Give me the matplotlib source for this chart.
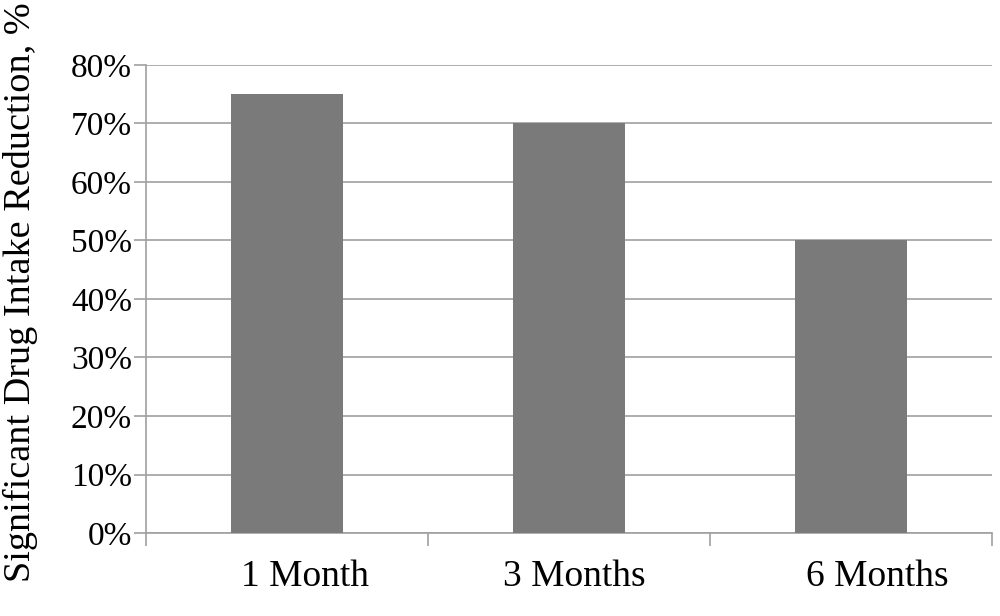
import numpy as np
import matplotlib.pyplot as plt
import matplotlib.transforms as mtransforms
from matplotlib.ticker import FixedLocator, NullFormatter

categories = ["1 Month", "3 Months", "6 Months"]
reduction = [75, 70, 50]
y_ticks = [0, 10, 20, 30, 40, 50, 60, 70, 80]
y_labels = ["0%", "10%", "20%", "30%", "40%", "50%", "60%", "70%", "80%"]

plt.rcParams["font.family"] = ["Liberation Serif", "DejaVu Serif"]

fig = plt.figure(figsize=(10, 6.16), dpi=100)
ax = fig.add_axes([0.146, 0.1347, 0.846, 0.76])

x = np.arange(len(categories))
ax.bar(x, reduction, width=0.4, color="#7a7a7a", zorder=3)

ax.set_xlim(-0.5, len(categories) - 0.5)
ax.set_ylim(0, 80)

# gridlines
ax.set_yticks(y_ticks)
ax.set_yticklabels(y_labels, fontsize=24)
ax.yaxis.grid(True, color="#a0a0a0", linewidth=1.2, zorder=0)
ax.tick_params(axis="y", length=9, width=1.2, color="#a0a0a0", pad=1)

# category labels, ticks on boundaries
ax.set_xticks(x)
ax.set_xticklabels(categories, fontsize=27)
ax.tick_params(axis="x", which="major", length=0, pad=19)
ax.xaxis.set_minor_locator(FixedLocator(np.arange(len(categories) + 1) - 0.5))
ax.xaxis.set_minor_formatter(NullFormatter())
ax.tick_params(axis="x", which="minor", length=9, width=1.2, color="#a0a0a0")

# labels in the original sit a little right of the bar centres
for lab, dx in zip(ax.get_xticklabels(), [0.18, 0.05, 0.26]):
    lab.set_transform(lab.get_transform() + mtransforms.ScaledTranslation(dx, 0, fig.dpi_scale_trans))

for side in ["top", "right"]:
    ax.spines[side].set_visible(False)
for side in ["left", "bottom"]:
    ax.spines[side].set_color("#a0a0a0")
    ax.spines[side].set_linewidth(1.2)

fig.text(0.02, 0.526, "Significant Drug Intake Reduction, %", rotation=90,
         fontsize=27.5, va="center", ha="center")

fig.savefig("out.png", dpi=100)
